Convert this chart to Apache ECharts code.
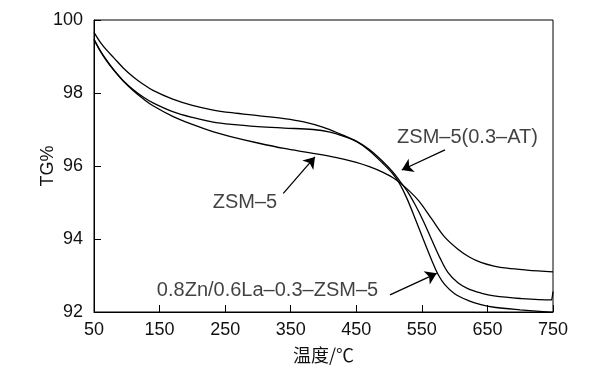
<!DOCTYPE html>
<html>
<head>
<meta charset="utf-8">
<script src="https://cdn.jsdelivr.net/npm/echarts@6/dist/echarts.min.js"></script>
<style>
html,body{margin:0;padding:0;background:#fff;}
#c{width:590px;height:375px;}
</style>
</head>
<body>
<div id="c"></div>
<script>
// ZSM-5 (parent)
var zsm5T  = [50, 60, 70, 80, 95, 110, 125, 140, 170, 200, 230, 260, 300, 340, 380, 420, 450, 470, 490, 510, 527, 545, 565, 585, 605, 623, 640, 660, 680, 710, 750];
var zsm5TG = [99.48, 99.15, 98.88, 98.64, 98.32, 98.06, 97.84, 97.65, 97.36, 97.14, 96.95, 96.80, 96.63, 96.48, 96.36, 96.23, 96.10, 95.98, 95.83, 95.63, 95.38, 95.05, 94.55, 94.05, 93.72, 93.50, 93.36, 93.26, 93.20, 93.15, 93.10];
// ZSM-5(0.3-AT)
var atT  = [50, 60, 70, 80, 95, 110, 125, 140, 170, 200, 230, 260, 300, 340, 370, 400, 425, 450, 470, 490, 505, 515, 527, 540, 552, 565, 578, 590, 605, 620, 640, 660, 700, 748, 749, 750];
var atTG = [99.66, 99.38, 99.16, 98.97, 98.68, 98.44, 98.24, 98.07, 97.83, 97.66, 97.54, 97.46, 97.38, 97.30, 97.21, 97.06, 96.88, 96.68, 96.45, 96.13, 95.85, 95.62, 95.33, 94.93, 94.50, 93.98, 93.47, 93.08, 92.80, 92.64, 92.52, 92.44, 92.37, 92.33, 92.33, 92.56];
// 0.8Zn/0.6La-0.3-ZSM-5
var znT  = [50, 60, 70, 80, 95, 110, 125, 140, 170, 200, 230, 260, 300, 340, 384, 410, 430, 450, 470, 490, 505, 515, 527, 540, 552, 565, 575, 585, 600, 620, 640, 660, 700, 750];
var znTG = [99.46, 99.13, 98.86, 98.63, 98.33, 98.09, 97.89, 97.73, 97.49, 97.33, 97.21, 97.14, 97.08, 97.04, 97.0, 96.93, 96.82, 96.67, 96.42, 96.08, 95.80, 95.55, 95.12, 94.55, 94.0, 93.42, 93.02, 92.75, 92.50, 92.32, 92.20, 92.13, 92.06, 91.99];

var xTicks = [50, 150, 250, 350, 450, 550, 650, 750];
var yTicks = [92, 94, 96, 98, 100];

var labelNames = ['ZSM–5(0.3–AT)', 'ZSM–5', '0.8Zn/0.6La–0.3–ZSM–5'];
var labelT  = [619.6, 280.3, 314.6];
var labelTG = [96.77, 94.99, 92.58];

var arrowFromT  = [585.3, 338.7, 501.4];
var arrowFromTG = [96.44, 95.25, 92.47];
var arrowToT    = [519.3, 387.0, 572.6];
var arrowToTG   = [95.89, 96.25, 93.06];

function pairs(xs, ys){ return xs.map(function(x,i){ return [x, ys[i]]; }); }

var FONT = '"Liberation Sans", Arial, Helvetica, sans-serif';
var TXT = '#111';
var chart = echarts.init(document.getElementById('c'), null, {renderer:'canvas'});

var lineStyle = {color:'#000', width:1.3};
var arrows = arrowFromT.map(function(t,i){
  return [{coord:[t, arrowFromTG[i]]},{coord:[arrowToT[i], arrowToTG[i]]}];
});

function lineSeries(name, xs, ys, extra){
  var s = {type:'line', name:name, data:pairs(xs, ys), smooth:0.35,
    showSymbol:false, lineStyle:lineStyle, silent:true};
  if (extra) for (var k in extra) s[k] = extra[k];
  return s;
}

chart.setOption({
  animation:false,
  backgroundColor:'#fff',
  grid:{left:94, right:37, top:20, bottom:63, show:true, borderColor:'#000', borderWidth:1, backgroundColor:'transparent'},
  xAxis:{
    type:'value', min:xTicks[0], max:xTicks[xTicks.length-1], interval:100,
    name:'温度/℃', nameLocation:'middle', nameGap:34, nameMoveOverlap:false,
    nameTextStyle:{fontFamily:'"Noto Sans CJK SC", sans-serif', fontSize:18, color:TXT},
    axisLine:{show:true, lineStyle:{color:'#000', width:1}},
    axisTick:{show:true, inside:true, length:7, lineStyle:{color:'#000'}},
    axisLabel:{fontFamily:FONT, fontSize:18, color:TXT, margin:9},
    splitLine:{show:false}
  },
  yAxis:{
    type:'value', min:yTicks[0], max:yTicks[yTicks.length-1], interval:2,
    name:'TG%', nameLocation:'middle', nameGap:37, nameMoveOverlap:false,
    nameTextStyle:{fontFamily:FONT, fontSize:18, color:TXT},
    axisLine:{show:true, lineStyle:{color:'#000', width:1}},
    axisTick:{show:true, inside:true, length:7, lineStyle:{color:'#000'}},
    axisLabel:{fontFamily:FONT, fontSize:18, color:TXT, margin:11},
    splitLine:{show:false}
  },
  series:[
    lineSeries('ZSM-5', zsm5T, zsm5TG),
    lineSeries('ZSM-5(0.3-AT)', atT, atTG, {
      markLine:{silent:true, symbol:['none','arrow'], symbolSize:11, animation:false,
        lineStyle:{color:'#000', width:1.3, type:'solid'}, label:{show:false}, data:arrows}}),
    lineSeries('0.8Zn/0.6La-0.3-ZSM-5', znT, znTG),
    {type:'scatter', data:labelT.map(function(t,i){ return {name:labelNames[i], value:[t, labelTG[i]]}; }),
      symbolSize:0, silent:true,
      label:{show:true, position:'inside', formatter:'{b}', fontFamily:FONT, fontSize:20, color:TXT}}
  ]
});
</script>
</body>
</html>
